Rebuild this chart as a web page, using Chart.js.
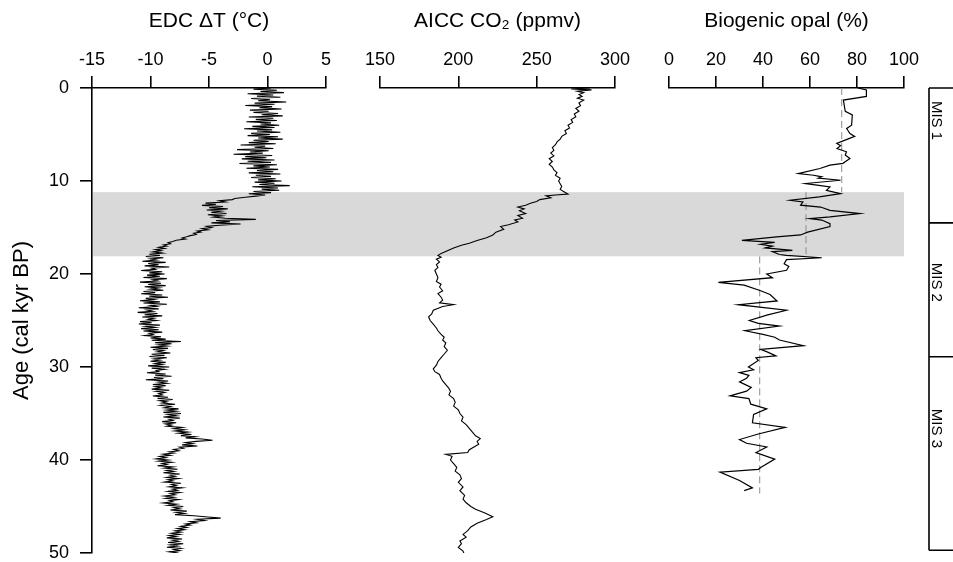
<!DOCTYPE html>
<html>
<head>
<meta charset="utf-8">
<script src="https://cdn.jsdelivr.net/npm/chart.js@4.4.0/dist/chart.umd.min.js"></script>
<style>
  body { margin: 0; background: #fff; }
  #wrap { position: relative; width: 953px; height: 562px; }
  .panel { position: absolute; top: 0; height: 562px; }
</style>
</head>
<body>
<div id="wrap">
  <div class="panel" style="left:0;width:353px"><canvas id="edc"></canvas></div>
  <div class="panel" style="left:353px;width:289px"><canvas id="co2"></canvas></div>
  <div class="panel" style="left:642px;width:311px"><canvas id="opal"></canvas></div>
</div>
<script>
// EDC temperature anomaly (deg C) vs age (kyr BP), one row per kyr
const edcAge = [
  0, 0.125, 0.25, 0.375, 0.5, 0.625, 0.75, 0.875,
  1, 1.125, 1.25, 1.375, 1.5, 1.625, 1.75, 1.875,
  2, 2.125, 2.25, 2.375, 2.5, 2.625, 2.75, 2.875,
  3, 3.125, 3.25, 3.375, 3.5, 3.625, 3.75, 3.875,
  4, 4.125, 4.25, 4.375, 4.5, 4.625, 4.75, 4.875,
  5, 5.125, 5.25, 5.375, 5.5, 5.625, 5.75, 5.875,
  6, 6.125, 6.25, 6.375, 6.5, 6.625, 6.75, 6.875,
  7, 7.125, 7.25, 7.375, 7.5, 7.625, 7.75, 7.875,
  8, 8.125, 8.25, 8.375, 8.5, 8.625, 8.75, 8.875,
  9, 9.125, 9.25, 9.375, 9.5, 9.625, 9.75, 9.875,
  10, 10.125, 10.25, 10.375, 10.5, 10.625, 10.75, 10.875,
  11, 11.125, 11.25, 11.375, 11.5, 11.625, 11.75, 11.875,
  12, 12.125, 12.25, 12.375, 12.5, 12.625, 12.75, 12.875,
  13, 13.125, 13.25, 13.375, 13.5, 13.625, 13.75, 13.875,
  14, 14.125, 14.25, 14.375, 14.5, 14.625, 14.75, 14.875,
  15, 15.125, 15.25, 15.375, 15.5, 15.625, 15.75, 15.875,
  16, 16.125, 16.25, 16.375, 16.5, 16.625, 16.75, 16.875,
  17, 17.125, 17.25, 17.375, 17.5, 17.625, 17.75, 17.875,
  18, 18.125, 18.25, 18.375, 18.5, 18.625, 18.75, 18.875,
  19, 19.125, 19.25, 19.375, 19.5, 19.625, 19.75, 19.875,
  20, 20.125, 20.25, 20.375, 20.5, 20.625, 20.75, 20.875,
  21, 21.125, 21.25, 21.375, 21.5, 21.625, 21.75, 21.875,
  22, 22.125, 22.25, 22.375, 22.5, 22.625, 22.75, 22.875,
  23, 23.125, 23.25, 23.375, 23.5, 23.625, 23.75, 23.875,
  24, 24.125, 24.25, 24.375, 24.5, 24.625, 24.75, 24.875,
  25, 25.125, 25.25, 25.375, 25.5, 25.625, 25.75, 25.875,
  26, 26.125, 26.25, 26.375, 26.5, 26.625, 26.75, 26.875,
  27, 27.125, 27.25, 27.375, 27.5, 27.625, 27.75, 27.875,
  28, 28.125, 28.25, 28.375, 28.5, 28.625, 28.75, 28.875,
  29, 29.125, 29.25, 29.375, 29.5, 29.625, 29.75, 29.875,
  30, 30.125, 30.25, 30.375, 30.5, 30.625, 30.75, 30.875,
  31, 31.125, 31.25, 31.375, 31.5, 31.625, 31.75, 31.875,
  32, 32.125, 32.25, 32.375, 32.5, 32.625, 32.75, 32.875,
  33, 33.125, 33.25, 33.375, 33.5, 33.625, 33.75, 33.875,
  34, 34.125, 34.25, 34.375, 34.5, 34.625, 34.75, 34.875,
  35, 35.125, 35.25, 35.375, 35.5, 35.625, 35.75, 35.875,
  36, 36.125, 36.25, 36.375, 36.5, 36.625, 36.75, 36.875,
  37, 37.125, 37.25, 37.375, 37.5, 37.625, 37.75, 37.875,
  38, 38.125, 38.25, 38.375, 38.5, 38.625, 38.75, 38.875,
  39, 39.125, 39.25, 39.375, 39.5, 39.625, 39.75, 39.875,
  40, 40.125, 40.25, 40.375, 40.5, 40.625, 40.75, 40.875,
  41, 41.125, 41.25, 41.375, 41.5, 41.625, 41.75, 41.875,
  42, 42.125, 42.25, 42.375, 42.5, 42.625, 42.75, 42.875,
  43, 43.125, 43.25, 43.375, 43.5, 43.625, 43.75, 43.875,
  44, 44.125, 44.25, 44.375, 44.5, 44.625, 44.75, 44.875,
  45, 45.125, 45.25, 45.375, 45.5, 45.625, 45.75, 45.875,
  46, 46.125, 46.25, 46.375, 46.5, 46.625, 46.75, 46.875,
  47, 47.125, 47.25, 47.375, 47.5, 47.625, 47.75, 47.875,
  48, 48.125, 48.25, 48.375, 48.5, 48.625, 48.75, 48.875,
  49, 49.125, 49.25, 49.375, 49.5, 49.625, 49.75, 49.875,
  50
];
const edcTemp = [
  0.3, -1.2, 0.8, -0.6, 1.4, -1.7, 0.5, -0.9,
  1.1, -1.4, 0.2, -0.8, 1.6, -1.1, 0.6, -1.9,
  0.4, -0.7, 1.2, -1.5, 0.1, -1.2, 0.9, -0.5,
  1.3, -1.6, 0.5, -1.0, 0.8, -1.8, 0.3, -0.6,
  1.0, -1.3, 0.6, -2.0, 0.4, -0.9, 1.1, -1.4,
  0.2, -1.7, 0.9, -0.8, 1.3, -1.2, 0.1, -1.6,
  0.7, -2.3, -0.2, -1.1, 0.5, -2.6, 0.1, -1.5,
  -0.4, -2.9, 0.4, -1.9, -0.1, -2.2, 0.6, -1.7,
  0.3, -2.4, 0.8, -1.2, 0.2, -1.8, 0.9, -0.9,
  0.5, -1.6, 1.1, -1.0, 0.3, -1.4, 0.7, -0.8,
  1.2, -1.1, 0.6, -0.7, 1.9, -1.3, 0.9, -0.5,
  1.0, -1.2, 0.3, -1.6, -0.2, -1.0, -1.9, -2.8,
  -3.0, -4.1, -3.6, -5.3, -4.4, -5.6, -3.8, -5.0,
  -3.4, -5.2, -4.0, -4.8, -3.5, -5.1, -3.9, -4.6,
  -3.6, -1.0, -4.4, -3.2, -4.8, -2.3, -4.1, -5.2,
  -4.8, -5.6, -5.1, -6.0, -5.7, -6.3, -6.1, -6.6,
  -6.9, -7.3, -7.0, -7.8, -8.1, -8.5, -8.3, -8.9,
  -8.6, -9.3, -8.8, -9.6, -9.1, -9.8, -9.0, -10.1,
  -9.2, -10.4, -8.9, -10.0, -9.5, -10.7, -8.7, -10.2,
  -9.3, -10.5, -8.4, -9.9, -9.6, -10.8, -9.0, -10.1,
  -8.8, -10.3, -9.2, -10.6, -8.6, -9.8, -9.4, -10.9,
  -9.1, -10.2, -8.7, -10.5, -9.3, -10.0, -8.9, -10.6,
  -9.6, -10.8, -9.0, -10.1, -8.5, -10.4, -9.7, -10.9,
  -9.2, -10.6, -8.6, -10.0, -9.5, -11.0, -9.3, -10.3,
  -9.8, -11.1, -9.4, -10.5, -9.0, -10.7, -9.7, -10.2,
  -9.5, -10.9, -9.9, -11.0, -9.2, -10.4, -9.6, -10.8,
  -9.3, -10.6, -9.0, -10.1, -9.8, -10.5, -9.1, -10.0,
  -8.7, -9.9, -7.4, -9.6, -8.2, -9.3, -8.6, -10.0,
  -8.5, -9.8, -8.9, -9.4, -8.3, -9.9, -8.8, -10.1,
  -8.6, -9.7, -9.2, -10.0, -8.7, -9.6, -9.0, -10.2,
  -8.4, -9.9, -8.8, -9.5, -9.3, -10.3, -8.7, -9.6,
  -8.2, -9.7, -8.9, -10.4, -8.5, -9.3, -8.6, -9.8,
  -8.7, -9.6, -9.1, -9.9, -8.4, -9.5, -8.8, -9.3,
  -9.0, -9.8, -8.5, -9.4, -8.1, -9.2, -8.6, -9.0,
  -7.9, -9.1, -8.3, -8.8, -7.6, -8.6, -7.8, -8.9,
  -7.4, -8.5, -7.8, -8.9, -7.5, -8.4, -8.1, -9.0,
  -7.8, -8.7, -8.2, -8.6, -7.3, -8.0, -7.1, -7.9,
  -6.8, -7.6, -6.5, -7.4, -6.2, -7.0, -5.6, -4.7,
  -6.1, -7.0, -6.4, -7.3, -6.0, -7.5, -7.2, -8.0,
  -7.6, -8.4, -8.0, -8.9, -8.3, -9.2, -8.7, -9.5,
  -8.5, -9.3, -8.2, -9.0, -8.6, -9.4, -8.1, -8.8,
  -7.7, -8.6, -8.0, -8.9, -7.5, -8.3, -7.9, -8.6,
  -7.6, -8.5, -8.1, -8.8, -7.4, -8.2, -7.8, -8.4,
  -7.3, -8.1, -7.7, -8.5, -7.5, -8.3, -7.9, -8.8,
  -8.0, -8.7, -7.6, -8.4, -8.1, -8.9, -7.8, -8.5,
  -7.2, -8.0, -7.5, -8.3, -6.9, -7.8, -7.1, -7.9,
  -6.3, -5.1, -4.0, -6.0, -5.4, -6.6, -6.1, -7.0,
  -6.6, -7.4, -6.9, -7.7, -7.1, -7.9, -7.4, -8.2,
  -7.5, -8.4, -7.8, -8.6, -7.3, -8.1, -7.6, -8.5,
  -7.2, -8.3, -7.7, -8.6, -7.4, -8.0, -7.5, -8.4,
  -7.6
];

// AICC CO2 (ppmv) vs age
const co2Age = [
  0, 0.1, 0.2, 0.35, 0.5, 0.7, 0.9, 1.1, 1.3, 1.6, 1.9, 2.2, 2.5, 2.8, 3.1, 3.4, 3.7,
  4.0, 4.3, 4.6, 4.9, 5.2, 5.5, 5.8, 6.1, 6.4, 6.7, 7.0, 7.3, 7.6, 7.9, 8.2, 8.5,
  8.8, 9.1, 9.4, 9.7, 10.0, 10.3, 10.6, 10.9, 11.2, 11.4, 11.5, 11.6, 11.8, 12.0,
  12.2, 12.4, 12.6, 12.8, 13.0, 13.2, 13.5, 13.7, 14.0, 14.2, 14.4, 14.7, 14.9,
  15.2, 15.5, 15.8, 16.1, 16.4, 16.7, 16.9, 17.2, 17.5, 17.8, 18.0, 18.2, 18.4,
  18.7, 19.0, 19.3, 19.6, 20.0, 20.4, 20.8, 21.1, 21.4, 21.8, 22.1, 22.5, 22.8,
  23.1, 23.3, 23.5, 23.9, 24.3, 24.6, 25.0, 25.4, 25.8, 26.1, 26.5, 26.8, 27.1,
  27.4, 27.8, 28.2, 28.6, 29.0, 29.4, 29.8, 30.2, 30.5, 30.8, 31.2, 31.5, 31.9,
  32.3, 32.6, 33.0, 33.4, 33.8, 34.2, 34.6, 35.0, 35.4, 35.8, 36.2, 36.6, 37.0,
  37.4, 37.7, 38.0, 38.3, 38.6, 38.9, 39.2, 39.4, 39.6, 40.0, 40.4, 40.8, 41.2,
  41.6, 42.0, 42.4, 42.9, 43.3, 43.8, 44.2, 44.6, 45.0, 45.3, 45.7, 46.1, 46.4,
  46.8, 47.2, 47.6, 48.0, 48.3, 48.7, 49.0, 49.4, 49.8, 50.2
];
const co2Ppm = [
  284, 272, 285, 276, 280, 277, 279, 276, 280, 277, 278, 275, 277, 274, 275, 272, 273,
  270, 271, 268, 269, 266, 265, 263, 262, 260, 261, 259, 261, 258, 260, 258, 260,
  261, 263, 262, 265, 264, 265, 266, 265, 268, 270, 262, 256, 259, 252,
  250, 246, 243, 238, 242, 239, 243, 238, 241, 236, 238, 232, 227,
  229, 224, 222, 218, 212, 207, 202, 197, 193, 189, 187, 189, 186,
  188, 186, 187, 185, 186, 187, 186, 189, 188, 190, 187, 189, 190,
  188, 197, 190, 184, 183, 181, 182, 184, 186, 187, 189, 191, 190,
  192, 191, 193, 191, 189, 187, 186, 184, 185, 188, 189, 190, 192,
  194, 195, 194, 197, 198, 197, 200, 201, 203, 202, 205, 207, 209,
  211, 214, 212, 213, 210, 207, 206, 192, 196, 195, 197, 199, 198,
  201, 202, 200, 203, 201, 204, 203, 205, 208, 211, 217, 222, 218,
  212, 208, 206, 203, 205, 201, 202, 200, 203, 204
];

// Biogenic opal (%) vs age
const opalAge = [
  0, 0.2, 0.9, 1.3, 2.5, 2.9, 4.0, 4.35, 4.9, 5.2, 5.5, 5.96, 6.2, 6.5, 6.86, 7.2,
  7.58, 8.1, 8.3, 8.66, 9.2, 9.38, 9.55, 9.7, 9.92, 10.27, 10.45, 10.63, 11.0, 11.35,
  11.7, 12.07, 12.25, 12.6, 12.8, 13.15, 13.5, 13.86, 14.04, 14.2, 14.58, 14.9, 15.5,
  15.8, 16.0, 16.38, 16.6, 16.8, 17.0, 17.2, 17.46, 17.6, 17.9, 18.0, 18.25, 18.45,
  18.9, 19.2, 19.6, 20.0, 20.4, 20.9, 21.2, 21.8, 22.2, 22.9, 23.3, 23.9, 24.4, 25.0,
  25.3, 25.6, 26.1, 26.5, 26.8, 27.1, 27.7, 28.1, 28.4, 28.8, 29.0, 29.3, 30.0, 30.3,
  30.6, 30.9, 31.2, 31.6, 32.2, 32.6, 33.1, 33.4, 34.0, 34.5, 35.1, 36.0, 36.5, 37.2,
  37.8, 38.2, 38.6, 39.2, 39.9, 40.8, 41.0, 41.3, 42.2, 43.0, 43.3
];
const opalPct = [
  80.4, 84, 84, 74.2, 75, 78, 77.7, 75.6, 77, 79, 76, 71.4, 73, 71.5, 75.5, 75,
  77, 74, 68.5, 64.2, 55, 61.5, 65, 63.5, 73, 58, 63, 68.5, 67, 73,
  64, 51.5, 57, 56, 64.5, 68.5, 81.3, 68.5, 60, 65, 68.5, 68.5, 59,
  56, 45.8, 31, 45, 39, 44, 41, 52.5, 44, 47, 50, 65, 50,
  49, 51, 50, 41.6, 44, 21, 32, 39, 43, 46, 29.5, 50, 42, 34.2,
  38, 47, 32.3, 40, 45, 47, 57.2, 39, 42, 45.5, 37, 38, 33.8, 36,
  30, 34, 33, 30, 35, 33, 26, 34, 34.8, 41.6, 36, 35.5, 49.4, 38,
  30, 33, 41.6, 37, 45, 39, 38, 21.7, 30, 35.5, 32
];
// dashed mean levels of opal
const opalMeanPct = [73.5, 58.3, 38.6];
const opalMeanTop = [0, 11.2, 18.1];
const opalMeanBottom = [11.2, 18.4, 43.6];

// shaded interval and MIS stages
const bandAge = [11.2, 18.1];
const misBounds = [0, 14.5, 28.9, 49.7];
const misLabels = ['MIS 1', 'MIS 2', 'MIS 3'];
const misLabelAge = [3.5, 20.9, 36.6];

// axis ranges [min, max, step]
const ageRange = [0, 50, 10];
const edcRange = [-15, 5, 5];
const co2Range = [150, 300, 50];
const opalRange = [0, 100, 20];

Chart.defaults.font.family = '"Liberation Sans", Arial, sans-serif';
Chart.defaults.color = '#000';

const toPoints = (ages, vals) => vals.map((v, i) => ({ x: v, y: ages[i] }));

const bandPlugin = {
  id: 'band',
  beforeDatasetsDraw(chart, args, opts) {
    const ctx = chart.ctx;
    const y = chart.scales.y;
    const top = y.getPixelForValue(bandAge[0]);
    const bot = y.getPixelForValue(bandAge[1]);
    const x0 = opts.from === 'area' ? chart.chartArea.left + 1 : 0;
    const x1 = opts.to === 'area' ? chart.chartArea.right : chart.width;
    ctx.save();
    ctx.fillStyle = '#d9d9d9';
    ctx.fillRect(x0, top, x1 - x0, bot - top);
    ctx.restore();
  }
};

const misPlugin = {
  id: 'mis',
  afterDraw(chart) {
    const ctx = chart.ctx;
    const y = chart.scales.y;
    const x = chart.width - 24;
    ctx.save();
    ctx.strokeStyle = '#000';
    ctx.lineWidth = 1.6;
    ctx.beginPath();
    ctx.moveTo(x, y.getPixelForValue(misBounds[0]));
    ctx.lineTo(x, y.getPixelForValue(misBounds[misBounds.length - 1]));
    misBounds.forEach(b => {
      const py = y.getPixelForValue(b);
      ctx.moveTo(x, py);
      ctx.lineTo(chart.width, py);
    });
    ctx.stroke();
    ctx.fillStyle = '#000';
    ctx.font = '15px "Liberation Sans", Arial, sans-serif';
    ctx.textAlign = 'center';
    ctx.textBaseline = 'middle';
    misLabels.forEach((t, i) => {
      ctx.save();
      ctx.translate(x + 7, y.getPixelForValue(misLabelAge[i]));
      ctx.rotate(Math.PI / 2);
      ctx.fillText(t, 0, 0);
      ctx.restore();
    });
    ctx.restore();
  }
};

function topAxis(title, range) {
  return {
    type: 'linear', position: 'top', min: range[0], max: range[1],
    ticks: { stepSize: range[2], font: { size: 18 }, color: '#000', padding: 5, maxRotation: 0 },
    grid: { drawOnChartArea: false, tickLength: 12, color: '#000', lineWidth: 1.6 },
    border: { color: '#000', width: 1.6 },
    title: { display: true, text: title, font: { size: 21 }, color: '#000', padding: { top: 9, bottom: 0 } },
    afterFit: s => { s.height = 88; }
  };
}

const hiddenAge = { type: 'linear', reverse: true, min: ageRange[0], max: ageRange[1], display: false };

function lineSet(ages, vals, width) {
  return { data: toPoints(ages, vals), showLine: true, pointRadius: 0, borderColor: '#000', borderWidth: width, tension: 0 };
}

const common = {
  animation: false, responsive: true, maintainAspectRatio: false, events: [],
  plugins: { legend: { display: false }, tooltip: { enabled: false } }
};

new Chart(document.getElementById('edc'), {
  type: 'scatter',
  data: { datasets: [lineSet(edcAge, edcTemp, 1.1)] },
  options: {
    ...common,
    layout: { padding: { left: 0, top: 0, right: 27, bottom: 9 } },
    plugins: { ...common.plugins, band: { from: 'area', to: 'edge' } },
    scales: {
      x: topAxis('EDC \u0394T (\u00B0C)', edcRange),
      y: {
        type: 'linear', position: 'left', reverse: true, min: ageRange[0], max: ageRange[1],
        ticks: { stepSize: ageRange[2], font: { size: 18 }, color: '#000', padding: 11 },
        grid: { drawOnChartArea: false, tickLength: 12, color: '#000', lineWidth: 1.6 },
        border: { color: '#000', width: 1.6 },
        title: { display: true, text: 'Age (cal kyr BP)', font: { size: 22 }, color: '#000', padding: { top: 9, bottom: 0 } },
        afterFit: s => { s.width = 92; s.paddingTop = 0; s.paddingBottom = 0; }
      }
    }
  },
  plugins: [bandPlugin]
});

new Chart(document.getElementById('co2'), {
  type: 'scatter',
  data: { datasets: [lineSet(co2Age, co2Ppm, 1.1)] },
  options: {
    ...common,
    layout: { padding: { left: 27, top: 0, right: 27, bottom: 9 } },
    plugins: { ...common.plugins, band: { from: 'edge', to: 'edge' } },
    scales: { x: topAxis('AICC CO\u2082 (ppmv)', co2Range), y: hiddenAge }
  },
  plugins: [bandPlugin]
});

const meanSets = opalMeanPct.map((v, i) => ({
  data: toPoints([opalMeanTop[i], opalMeanBottom[i]], [v, v]),
  showLine: true, pointRadius: 0, borderColor: '#8c8c8c', borderWidth: 1, borderDash: [7, 4]
}));

new Chart(document.getElementById('opal'), {
  type: 'scatter',
  data: { datasets: [lineSet(opalAge, opalPct, 1.2), ...meanSets] },
  options: {
    ...common,
    layout: { padding: { left: 27, top: 0, right: 49, bottom: 9 } },
    plugins: { ...common.plugins, band: { from: 'edge', to: 'area' } },
    scales: { x: topAxis('Biogenic opal (%)', opalRange), y: hiddenAge }
  },
  plugins: [bandPlugin, misPlugin]
});
</script>
</body>
</html>
